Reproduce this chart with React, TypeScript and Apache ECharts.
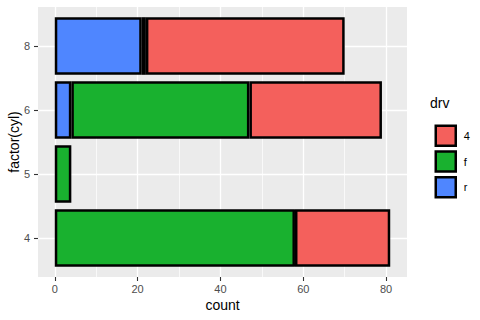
import React, { useEffect, useRef } from "react";
import * as echarts from "echarts";

const categories = ["4", "5", "6", "8"];
const seriesR = [null, null, 4, 21];
const seriesF = [58, 4, 43, 1];
const series4 = [23, null, 32, 48];
const majorTicks = [0, 20, 40, 60, 80];
const minorTicks = [10, 30, 50, 70];
const legendNames = ["4", "f", "r"];

const X_MIN = -4.05;
const X_MAX = 85.05;
const FONT = "Liberation Sans, Arial, sans-serif";

export default function App() {
  const ref = useRef<HTMLDivElement>(null);
  useEffect(() => {
    if (!ref.current) return;
    const chart = echarts.init(ref.current, null, { renderer: "svg" });
    const barBase = {
      type: "bar",
      stack: "total",
      xAxisIndex: 2,
      yAxisIndex: 1,
      barWidth: "90%",
      clip: false,
      itemStyle: { borderColor: "#000", borderWidth: 2.5 },
    };
    chart.setOption({
      animation: false,
      textStyle: { fontFamily: FONT },
      grid: [
        {
          left: 38, top: 7, width: 369, height: 270, show: true, backgroundColor: "#EBEBEB", borderWidth: 0,
          containLabel: false, outerBoundsMode: "none",
        },
        { left: 38, top: 46, width: 369, height: 192, show: false, containLabel: false, outerBoundsMode: "none" },
      ],
      xAxis: [
        {
          type: "value",
          gridIndex: 0,
          min: X_MIN,
          max: X_MAX,
          name: "count",
          nameLocation: "middle",
          nameGap: 21,
          nameMoveOverlap: false,
          nameTextStyle: { color: "#000", fontSize: 14, fontFamily: FONT },
          axisLine: { show: false, onZero: false },
          axisTick: { show: true, length: 4, customValues: majorTicks, lineStyle: { color: "#333", width: 1.1 } },
          axisLabel: { customValues: majorTicks, color: "#4D4D4D", fontSize: 11, margin: 6, fontFamily: FONT },
          splitLine: { show: true, lineStyle: { color: "#fff", width: 1.3 } },
        },
        {
          type: "value",
          gridIndex: 0,
          min: X_MIN,
          max: X_MAX,
          axisLine: { show: false, onZero: false },
          axisTick: { show: false, customValues: minorTicks },
          axisLabel: { show: false, customValues: minorTicks },
          splitLine: { show: true, lineStyle: { color: "#fff", width: 0.7 } },
        },
        {
          type: "value",
          gridIndex: 1,
          min: X_MIN,
          max: X_MAX,
          axisLine: { show: false, onZero: false },
          axisTick: { show: false, customValues: majorTicks },
          axisLabel: { show: false, customValues: majorTicks },
          splitLine: { show: false },
        },
      ],
      yAxis: [
        { type: "value", gridIndex: 0, min: 0, max: 1, show: false, axisLine: { onZero: false } },
        {
          type: "category",
          gridIndex: 1,
          data: categories,
          boundaryGap: false,
          name: "factor(cyl)",
          nameLocation: "middle",
          nameGap: 17,
          nameMoveOverlap: false,
          nameRotate: 90,
          nameTextStyle: { color: "#000", fontSize: 14, fontFamily: FONT },
          axisLine: { show: false, onZero: false },
          axisTick: { show: true, inside: false, length: 4, lineStyle: { color: "#333", width: 1.1 } },
          axisLabel: { interval: 0, color: "#4D4D4D", fontSize: 11, margin: 8, fontFamily: FONT },
          splitLine: { show: true, interval: 0, lineStyle: { color: "#fff", width: 1.3 } },
        },
      ],
      legend: {
        orient: "vertical",
        left: 429.5,
        top: 119.5,
        itemWidth: 20,
        itemHeight: 20,
        itemGap: 3.3,
        data: legendNames,
        icon: "rect",
        textStyle: { color: "#000", fontSize: 11, fontFamily: FONT, padding: [0, 0, 0, 3] },
        itemStyle: { borderColor: "#000", borderWidth: 2.5 },
      },
      graphic: [
        {
          type: "text",
          left: 430,
          top: 96,
          style: { text: "drv", fill: "#000", font: `14px ${FONT}` },
        },
      ],
      series: [
        { ...barBase, name: "r", data: seriesR, itemStyle: { ...barBase.itemStyle, color: "#4F86FF" } },
        { ...barBase, name: "f", data: seriesF, itemStyle: { ...barBase.itemStyle, color: "#19B12F" } },
        { ...barBase, name: "4", data: series4, itemStyle: { ...barBase.itemStyle, color: "#F4605C" } },
      ],
    });
    return () => chart.dispose();
  }, []);
  return (
    <div
      ref={ref}
      style={{ position: "fixed", left: 0, top: 0, width: 480, height: 320, background: "#fff" }}
    />
  );
}
